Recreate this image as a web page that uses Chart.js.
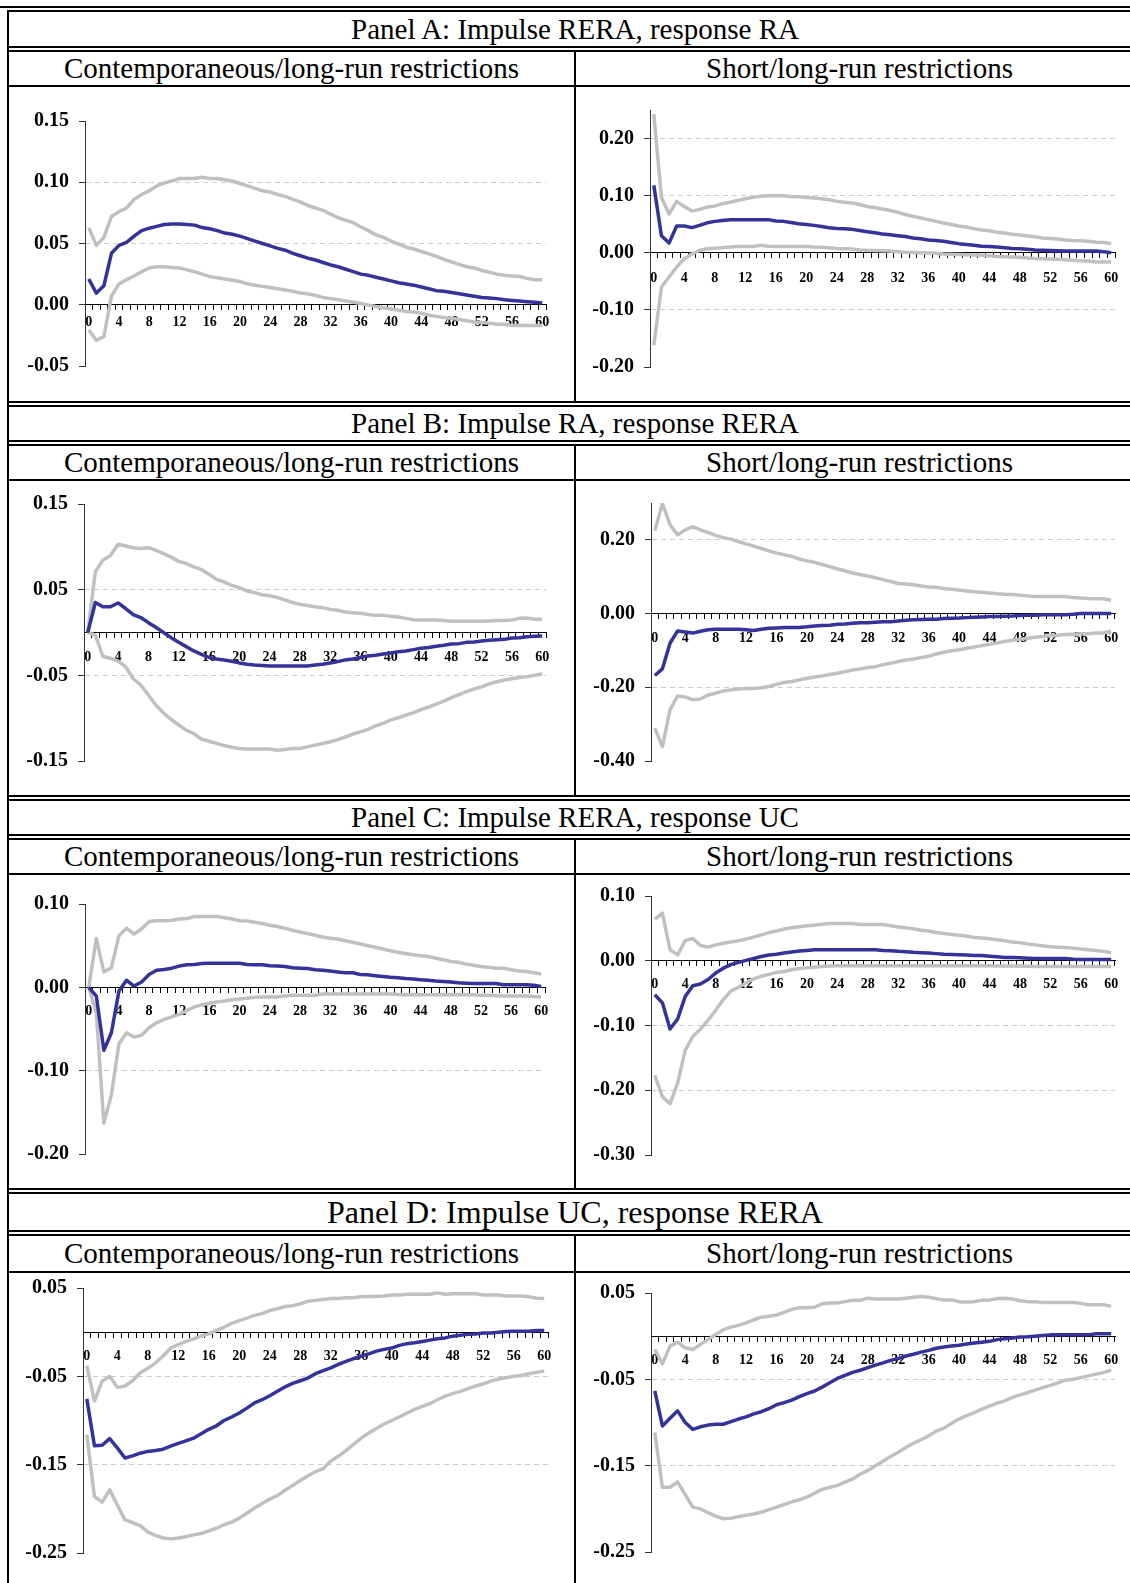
<!DOCTYPE html>
<html>
<head>
<title>Impulse responses: RERA, RA, UC</title>
<script src="https://cdn.jsdelivr.net/npm/chart.js"></script>
<style>
  body { margin: 0; width: 1130px; height: 1583px; overflow: hidden; background: #fff; position: relative;
         font-family: "Liberation Serif", "Times New Roman", serif; }
  .h { position: absolute; height: 2px; background: #000; }
  .v { position: absolute; width: 2px; background: #000; }
  .t { position: absolute; display: flex; align-items: center; justify-content: center; white-space: nowrap; color: #000; }
  canvas { position: absolute; }
</style>
</head>
<body>
<script>
// ---- data ----
const horizons = [0,1,2,3,4,5,6,7,8,9,10,11,12,13,14,15,16,17,18,19,20,21,22,23,24,25,26,27,28,29,30,
  31,32,33,34,35,36,37,38,39,40,41,42,43,44,45,46,47,48,49,50,51,52,53,54,55,56,57,58,59,60];

const panelTitles = ['Panel A: Impulse RERA, response RA', 'Panel B: Impulse RA, response RERA',
  'Panel C: Impulse RERA, response UC', 'Panel D: Impulse UC, response RERA'];
const columnTitles = ['Contemporaneous/long-run restrictions', 'Short/long-run restrictions'];

// Panel A
const aLeftTicks = [-0.05, 0.00, 0.05, 0.10, 0.15];
const aLeftUp = [0.063,0.0485,0.055,0.072,0.076,0.079,0.086,0.090,0.093,0.097,
  0.0995,0.101,0.103,0.103,0.103,0.104,0.103,0.103,0.102,0.101,
  0.099,0.097,0.095,0.093,0.092,0.090,0.0885,0.086,0.084,0.081,
  0.079,0.077,0.074,0.071,0.069,0.067,0.0635,0.0605,0.057,0.055,
  0.052,0.0495,0.047,0.0455,0.0435,0.0415,0.0395,0.037,0.035,0.033,
  0.031,0.030,0.028,0.0265,0.025,0.024,0.0235,0.023,0.0215,0.0205,0.0205];
const aLeftIrf = [0.021,0.0095,0.0155,0.042,0.0485,0.051,0.056,0.0605,0.0625,0.064,
  0.0655,0.066,0.066,0.0655,0.065,0.063,0.062,0.0605,0.0585,0.0575,
  0.056,0.054,0.052,0.050,0.048,0.046,0.0445,0.042,0.040,0.038,
  0.0365,0.0345,0.0325,0.031,0.029,0.027,0.025,0.024,0.0225,0.021,
  0.0195,0.018,0.017,0.016,0.0145,0.013,0.0115,0.011,0.010,0.009,
  0.008,0.007,0.006,0.0055,0.005,0.004,0.0035,0.003,0.0025,0.002,0.0015];
const aLeftLow = [-0.0205,-0.029,-0.026,0.007,0.017,0.0205,0.0235,0.027,0.030,0.031,
  0.031,0.0305,0.030,0.0285,0.027,0.025,0.023,0.022,0.021,0.020,
  0.019,0.017,0.016,0.015,0.014,0.013,0.012,0.011,0.0095,0.009,
  0.0075,0.006,0.005,0.004,0.003,0.002,0.001,-0.0003,-0.0015,-0.0025,
  -0.0035,-0.0045,-0.0055,-0.006,-0.007,-0.0085,-0.0095,-0.0105,-0.011,-0.012,
  -0.013,-0.014,-0.0145,-0.015,-0.016,-0.016,-0.017,-0.017,-0.017,-0.017,-0.017];

const aRightTicks = [-0.20, -0.10, 0.00, 0.10, 0.20];
const aRightUp = [0.243,0.097,0.068,0.090,0.081,0.073,0.076,0.080,0.082,0.086,
  0.0885,0.0915,0.0945,0.097,0.099,0.100,0.100,0.100,0.0985,0.098,
  0.097,0.096,0.0945,0.093,0.090,0.0885,0.087,0.0845,0.081,0.079,
  0.0765,0.074,0.071,0.067,0.064,0.061,0.058,0.055,0.052,0.0495,
  0.047,0.045,0.042,0.040,0.0385,0.036,0.0345,0.0325,0.031,0.0295,
  0.028,0.026,0.025,0.024,0.0225,0.0215,0.021,0.020,0.0185,0.018,0.016];
const aRightIrf = [0.118,0.030,0.017,0.047,0.047,0.044,0.048,0.0525,0.055,0.0565,
  0.058,0.058,0.058,0.058,0.058,0.058,0.0555,0.055,0.053,0.051,
  0.0495,0.048,0.046,0.044,0.0425,0.042,0.041,0.039,0.037,0.035,
  0.033,0.0315,0.030,0.0285,0.026,0.0245,0.0225,0.0215,0.020,0.018,
  0.016,0.0145,0.013,0.0115,0.011,0.010,0.009,0.0075,0.007,0.006,
  0.005,0.0045,0.004,0.0035,0.003,0.003,0.003,0.003,0.003,0.002,0.000];
const aRightLow = [-0.162,-0.060,-0.0425,-0.025,-0.0105,-0.002,0.004,0.007,0.008,0.009,
  0.010,0.011,0.011,0.011,0.013,0.0115,0.011,0.011,0.011,0.011,
  0.011,0.010,0.0095,0.009,0.0075,0.007,0.0065,0.005,0.004,0.004,
  0.0035,0.003,0.002,0.001,0.0005,0.000,-0.0005,-0.001,-0.002,-0.0025,
  -0.003,-0.0035,-0.004,-0.0045,-0.005,-0.0065,-0.007,-0.0075,-0.008,-0.009,
  -0.010,-0.0105,-0.011,-0.0115,-0.012,-0.013,-0.014,-0.0145,-0.016,-0.016,-0.016];

// Panel B
const bLeftTicks = [-0.15, -0.05, 0.05, 0.15];
const bLeftUp = [0.000,0.071,0.0845,0.090,0.103,0.101,0.099,0.098,0.099,0.096,
  0.092,0.088,0.083,0.0805,0.0765,0.0735,0.068,0.062,0.059,0.055,
  0.0525,0.0485,0.0465,0.044,0.043,0.041,0.038,0.035,0.033,0.0315,
  0.030,0.029,0.027,0.026,0.024,0.023,0.0225,0.021,0.020,0.020,
  0.019,0.018,0.0165,0.015,0.0145,0.0145,0.0145,0.014,0.013,0.013,
  0.013,0.013,0.013,0.0135,0.014,0.014,0.0145,0.0165,0.017,0.0155,0.0155];
const bLeftIrf = [0.000,0.035,0.030,0.030,0.0345,0.028,0.021,0.0175,0.0115,0.006,
  0.000,-0.006,-0.0115,-0.0165,-0.0215,-0.0255,-0.029,-0.031,-0.032,-0.0335,
  -0.0355,-0.037,-0.038,-0.0385,-0.039,-0.039,-0.039,-0.039,-0.039,-0.039,
  -0.038,-0.037,-0.0355,-0.034,-0.032,-0.031,-0.029,-0.0275,-0.0265,-0.025,
  -0.024,-0.0225,-0.0215,-0.020,-0.0185,-0.0175,-0.016,-0.015,-0.0135,-0.013,
  -0.0115,-0.011,-0.010,-0.009,-0.0085,-0.008,-0.0065,-0.006,-0.005,-0.0045,-0.004];
const bLeftLow = [0.000,-0.003,-0.028,-0.030,-0.0335,-0.040,-0.054,-0.0615,-0.073,-0.085,
  -0.094,-0.1015,-0.108,-0.114,-0.118,-0.1245,-0.127,-0.1295,-0.132,-0.134,
  -0.1355,-0.136,-0.136,-0.136,-0.136,-0.1375,-0.1365,-0.1355,-0.1355,-0.1335,
  -0.1315,-0.1295,-0.1275,-0.125,-0.122,-0.1185,-0.116,-0.113,-0.109,-0.106,
  -0.102,-0.0995,-0.0965,-0.0935,-0.090,-0.087,-0.0835,-0.080,-0.076,-0.0725,
  -0.069,-0.066,-0.0635,-0.060,-0.0575,-0.0555,-0.054,-0.0525,-0.0515,-0.050,-0.0485];

const bRightTicks = [-0.40, -0.20, 0.00, 0.20];
const bRightUp = [0.225,0.299,0.241,0.2135,0.227,0.236,0.227,0.220,0.212,0.206,
  0.202,0.1955,0.189,0.183,0.1765,0.170,0.164,0.160,0.155,0.148,
  0.143,0.139,0.133,0.1275,0.121,0.116,0.110,0.106,0.102,0.097,
  0.092,0.087,0.0815,0.080,0.078,0.075,0.072,0.0715,0.068,0.066,
  0.064,0.0615,0.059,0.058,0.056,0.054,0.0525,0.0515,0.050,0.048,
  0.046,0.046,0.046,0.046,0.046,0.0435,0.0425,0.041,0.040,0.040,0.036];
const bRightIrf = [-0.168,-0.150,-0.0805,-0.047,-0.050,-0.053,-0.048,-0.044,-0.0425,-0.0425,
  -0.0425,-0.0425,-0.044,-0.046,-0.0425,-0.040,-0.039,-0.038,-0.038,-0.038,
  -0.036,-0.0335,-0.0325,-0.0315,-0.029,-0.028,-0.026,-0.025,-0.025,-0.0235,
  -0.022,-0.022,-0.020,-0.018,-0.017,-0.016,-0.0155,-0.0155,-0.0135,-0.0125,
  -0.012,-0.011,-0.010,-0.009,-0.008,-0.008,-0.007,-0.0065,-0.0055,-0.0045,
  -0.0045,-0.0035,-0.0035,-0.003,-0.003,-0.002,0.000,0.000,0.000,0.000,0.000];
const bRightLow = [-0.311,-0.361,-0.2615,-0.2235,-0.226,-0.234,-0.232,-0.221,-0.216,-0.210,
  -0.207,-0.2045,-0.2035,-0.203,-0.201,-0.198,-0.192,-0.187,-0.1845,-0.180,
  -0.1755,-0.172,-0.169,-0.1655,-0.162,-0.1575,-0.153,-0.150,-0.1465,-0.144,
  -0.1385,-0.135,-0.130,-0.126,-0.123,-0.1195,-0.116,-0.1095,-0.105,-0.101,
  -0.098,-0.094,-0.0905,-0.087,-0.083,-0.0795,-0.076,-0.0725,-0.0695,-0.067,
  -0.064,-0.0625,-0.0605,-0.059,-0.057,-0.056,-0.055,-0.0545,-0.053,-0.0525,-0.048];

// Panel C
const cLeftTicks = [-0.20, -0.10, 0.00, 0.10];
const cLeftUp = [0.000,0.0585,0.0185,0.0235,0.062,0.071,0.064,0.070,0.079,0.080,
  0.080,0.0805,0.082,0.0825,0.085,0.085,0.085,0.085,0.0835,0.082,
  0.080,0.0795,0.078,0.0765,0.0745,0.073,0.071,0.0685,0.0665,0.0645,
  0.0625,0.0605,0.059,0.058,0.056,0.054,0.052,0.050,0.048,0.046,
  0.044,0.042,0.0405,0.039,0.038,0.037,0.035,0.033,0.031,0.030,
  0.028,0.0265,0.025,0.024,0.023,0.023,0.021,0.0195,0.019,0.0175,0.016];
const cLeftIrf = [0.000,-0.0105,-0.0755,-0.0545,-0.0045,0.0085,0.0015,0.0065,0.0155,0.0205,
  0.0215,0.023,0.0255,0.027,0.0275,0.0285,0.029,0.029,0.029,0.029,
  0.029,0.0275,0.027,0.027,0.026,0.0255,0.025,0.0235,0.023,0.0225,
  0.021,0.0205,0.0195,0.0185,0.0175,0.0175,0.0155,0.015,0.014,0.013,
  0.012,0.0115,0.0105,0.010,0.009,0.0085,0.0075,0.007,0.0065,0.0055,
  0.005,0.0045,0.0045,0.0045,0.0045,0.003,0.003,0.003,0.003,0.0025,0.001];
const cLeftLow = [0.000,-0.0305,-0.163,-0.129,-0.068,-0.0545,-0.0595,-0.0575,-0.0485,-0.0425,
  -0.0385,-0.0355,-0.0325,-0.028,-0.0235,-0.021,-0.019,-0.0175,-0.0165,-0.015,
  -0.014,-0.013,-0.012,-0.0115,-0.0115,-0.0115,-0.0105,-0.0095,-0.0095,-0.0095,
  -0.0095,-0.008,-0.008,-0.008,-0.008,-0.008,-0.008,-0.008,-0.008,-0.008,
  -0.008,-0.0085,-0.009,-0.009,-0.009,-0.009,-0.009,-0.009,-0.009,-0.009,
  -0.009,-0.009,-0.0095,-0.0095,-0.010,-0.0105,-0.0105,-0.0105,-0.0105,-0.011,-0.0115];

const cRightTicks = [-0.30, -0.20, -0.10, 0.00, 0.10];
const cRightUp = [0.064,0.0735,0.017,0.009,0.031,0.0345,0.0235,0.021,0.0245,0.027,
  0.029,0.031,0.0335,0.0365,0.040,0.0435,0.046,0.049,0.051,0.0525,
  0.054,0.055,0.0565,0.0575,0.0575,0.0575,0.0575,0.056,0.056,0.056,
  0.056,0.054,0.052,0.051,0.0495,0.047,0.046,0.0435,0.042,0.0405,
  0.0395,0.038,0.036,0.035,0.034,0.0325,0.031,0.029,0.028,0.026,
  0.0245,0.023,0.0215,0.021,0.0205,0.0195,0.018,0.017,0.016,0.0145,0.0125];
const cRightIrf = [-0.0525,-0.065,-0.1055,-0.090,-0.055,-0.0385,-0.036,-0.029,-0.019,-0.0115,
  -0.006,-0.0025,0.0005,0.0035,0.0065,0.009,0.010,0.012,0.0135,0.015,
  0.016,0.017,0.017,0.017,0.017,0.017,0.017,0.017,0.017,0.017,
  0.016,0.0155,0.0145,0.014,0.013,0.0125,0.012,0.011,0.010,0.0098,
  0.0093,0.009,0.008,0.008,0.007,0.006,0.005,0.005,0.0045,0.004,
  0.0035,0.0035,0.0035,0.0035,0.0035,0.0025,0.002,0.002,0.002,0.002,0.002];
const cRightLow = [-0.177,-0.210,-0.221,-0.189,-0.138,-0.117,-0.1055,-0.092,-0.0765,-0.060,
  -0.047,-0.041,-0.0345,-0.028,-0.024,-0.021,-0.018,-0.0165,-0.014,-0.012,
  -0.011,-0.010,-0.009,-0.008,-0.0077,-0.0077,-0.0077,-0.0077,-0.0077,-0.0077,
  -0.0077,-0.0077,-0.0077,-0.0077,-0.0077,-0.0077,-0.0077,-0.0077,-0.0077,-0.0077,
  -0.0077,-0.0077,-0.0077,-0.0077,-0.0077,-0.008,-0.008,-0.008,-0.008,-0.0085,
  -0.009,-0.009,-0.009,-0.009,-0.009,-0.009,-0.009,-0.009,-0.009,-0.009,-0.009];

// Panel D
const dLeftTicks = [-0.25, -0.15, -0.05, 0.05];
const dLeftUp = [-0.038,-0.078,-0.0555,-0.050,-0.0625,-0.061,-0.055,-0.046,-0.041,-0.035,
  -0.027,-0.018,-0.014,-0.0105,-0.0075,-0.0045,-0.002,0.002,0.0055,0.010,
  0.013,0.016,0.019,0.021,0.0245,0.0265,0.029,0.030,0.032,0.035,
  0.036,0.037,0.038,0.038,0.039,0.039,0.040,0.0405,0.0405,0.041,
  0.042,0.042,0.043,0.043,0.043,0.043,0.0445,0.043,0.0435,0.0435,
  0.0435,0.0435,0.042,0.042,0.042,0.041,0.041,0.041,0.040,0.0385,0.038];
const dLeftIrf = [-0.0755,-0.1285,-0.128,-0.1205,-0.131,-0.1425,-0.140,-0.137,-0.135,-0.134,
  -0.1325,-0.129,-0.126,-0.123,-0.120,-0.115,-0.110,-0.106,-0.100,-0.096,
  -0.0915,-0.086,-0.080,-0.0765,-0.072,-0.067,-0.062,-0.058,-0.055,-0.052,
  -0.047,-0.0435,-0.0405,-0.0365,-0.033,-0.030,-0.027,-0.0245,-0.0215,-0.0195,
  -0.018,-0.015,-0.013,-0.012,-0.0105,-0.009,-0.0075,-0.0065,-0.0045,-0.0035,
  -0.0025,-0.002,-0.001,-0.001,0.000,0.0008,0.001,0.001,0.001,0.002,0.002];
const dLeftLow = [-0.116,-0.186,-0.1925,-0.1785,-0.1955,-0.2125,-0.2155,-0.219,-0.226,-0.230,
  -0.233,-0.234,-0.233,-0.2315,-0.2295,-0.228,-0.225,-0.222,-0.218,-0.215,
  -0.2105,-0.205,-0.199,-0.194,-0.189,-0.185,-0.179,-0.1735,-0.168,-0.1625,
  -0.158,-0.1545,-0.146,-0.1405,-0.134,-0.127,-0.120,-0.114,-0.109,-0.104,
  -0.100,-0.096,-0.0915,-0.0875,-0.084,-0.081,-0.0765,-0.0725,-0.0695,-0.067,
  -0.064,-0.061,-0.0585,-0.0555,-0.053,-0.0515,-0.050,-0.049,-0.047,-0.0455,-0.044];

const dRightTicks = [-0.25, -0.15, -0.05, 0.05];
const dRightUp = [-0.0155,-0.032,-0.0115,-0.007,-0.0135,-0.0155,-0.0095,-0.004,0.002,0.0075,
  0.0105,0.0125,0.0155,0.019,0.022,0.023,0.0245,0.0275,0.031,0.033,
  0.033,0.0335,0.0375,0.0385,0.0385,0.040,0.0415,0.0415,0.044,0.043,
  0.043,0.043,0.043,0.044,0.045,0.046,0.045,0.0435,0.042,0.042,
  0.040,0.0395,0.040,0.0415,0.042,0.0435,0.044,0.043,0.041,0.040,
  0.040,0.039,0.039,0.039,0.039,0.039,0.038,0.0365,0.0365,0.0365,0.0345];
const dRightIrf = [-0.0635,-0.104,-0.095,-0.0865,-0.100,-0.108,-0.105,-0.103,-0.102,-0.102,
  -0.099,-0.096,-0.0935,-0.090,-0.0875,-0.084,-0.0795,-0.077,-0.074,-0.070,
  -0.0665,-0.0635,-0.059,-0.054,-0.049,-0.0455,-0.042,-0.0395,-0.0365,-0.0335,
  -0.031,-0.028,-0.026,-0.023,-0.021,-0.0185,-0.0165,-0.014,-0.0125,-0.0115,
  -0.0105,-0.009,-0.008,-0.007,-0.006,-0.004,-0.003,-0.002,-0.001,-0.0008,
  0.000,0.0008,0.0015,0.0015,0.0015,0.0015,0.0015,0.0015,0.0027,0.0027,0.0027];
const dRightLow = [-0.1115,-0.175,-0.175,-0.169,-0.1835,-0.198,-0.200,-0.2045,-0.2085,-0.2115,
  -0.211,-0.209,-0.2075,-0.206,-0.204,-0.201,-0.198,-0.195,-0.192,-0.1895,
  -0.1865,-0.182,-0.1775,-0.175,-0.173,-0.169,-0.1655,-0.160,-0.1555,-0.150,
  -0.145,-0.1395,-0.1345,-0.129,-0.124,-0.120,-0.1155,-0.110,-0.1065,-0.101,
  -0.096,-0.092,-0.0885,-0.0845,-0.081,-0.0775,-0.075,-0.071,-0.068,-0.0655,
  -0.0625,-0.0595,-0.057,-0.054,-0.051,-0.050,-0.048,-0.046,-0.044,-0.042,-0.0395];

// ---- table frame ----
const serif = '"Liberation Serif", "Times New Roman", serif';
function el(cls, css, text) {
  const d = document.createElement('div');
  d.className = cls;
  Object.assign(d.style, css);
  if (text) d.textContent = text;
  document.body.appendChild(d);
}
function hline(y, x1, x2) { el('h', {top: y + 'px', left: x1 + 'px', width: (x2 - x1) + 'px'}); }
function vline(x, y1, y2) { el('v', {left: x + 'px', top: y1 + 'px', height: (y2 - y1) + 'px'}); }

const RIGHT = 1143, DIV = 574, LEFT = 7;
// [double line above title, double line below title, line below column titles, next panel start]
const rows = [[6, 46, 85, 401], [401, 440, 479, 795], [795, 834, 873, 1188], [1188, 1230, 1271, 1583]];
hline(6, 0, RIGHT);
rows.forEach((r, k) => {
  const [a, b, c, next] = r;
  if (k > 0) hline(a, LEFT, RIGHT);
  hline(a + 4, LEFT, RIGHT);
  hline(b, LEFT, RIGHT);
  hline(b + 4, LEFT, RIGHT);
  hline(c, LEFT, RIGHT);
  vline(DIV, b + 4, next);
  el('t', {left: LEFT + 'px', width: (RIGHT - LEFT) + 'px', top: (a + 6) + 'px', height: (b - a - 6) + 'px',
           fontSize: (k === 3 ? 32 : 29) + 'px'}, panelTitles[k]);
  el('t', {left: (LEFT + 2) + 'px', width: (DIV - LEFT - 2) + 'px', top: (b + 6) + 'px', height: (c - b - 6) + 'px',
           fontSize: '29px'}, columnTitles[0]);
  el('t', {left: (DIV + 2) + 'px', width: (RIGHT - DIV - 2) + 'px', top: (b + 6) + 'px', height: (c - b - 6) + 'px',
           fontSize: '29px'}, columnTitles[1]);
});
vline(LEFT, 10, 1583);

// ---- charts ----
// layout padding must exceed the y scale's own label padding (half label + tick padding)
const YW = 70, PT = 26, PB = 26, PR = 16;
function irfChart(g, min, max, ticks, up, irf, low) {
  const cv = document.createElement('canvas');
  cv.width = YW + (g.right - g.axis) + PR;
  cv.height = (g.bottom - g.top) + PT + PB;
  cv.style.left = (g.axis - YW) + 'px';
  cv.style.top = (g.top - PT) + 'px';
  document.body.appendChild(cv);
  const lineStyle = {borderWidth: 3.5, pointRadius: 0, tension: 0, fill: false, borderJoinStyle: 'round'};
  new Chart(cv, {
    type: 'line',
    data: {
      labels: horizons,
      datasets: [
        Object.assign({data: irf, borderColor: '#333399'}, lineStyle),
        Object.assign({data: up, borderColor: '#c0c0c0'}, lineStyle),
        Object.assign({data: low, borderColor: '#c0c0c0'}, lineStyle)
      ]
    },
    options: {
      responsive: false,
      animation: false,
      devicePixelRatio: 1,
      layout: {padding: {top: PT, bottom: PB, left: 0, right: PR}},
      plugins: {legend: {display: false}, tooltip: {enabled: false}},
      scales: {
        x: {
          type: 'category',
          position: {y: 0},
          offset: true,
          grid: {offset: true, drawOnChartArea: false, drawTicks: true, tickLength: 5, tickColor: '#000', color: '#000'},
          border: {display: true, color: '#000', width: 1},
          ticks: {
            autoSkip: false, maxRotation: 0, minRotation: 0, padding: g.lp, color: '#000',
            font: {family: serif, size: 14, weight: 'bold'},
            callback: function (v, i) { return i % 4 === 0 ? String(this.getLabelForValue(v)) : ''; }
          }
        },
        y: {
          type: 'linear',
          bounds: 'data',
          min: min, max: max,
          afterBuildTicks: s => { s.ticks = ticks.map(v => ({value: v})); },
          afterFit: s => { s.width = YW; },
          grid: {
            color: c => (!c.tick || c.tick.value === 0 || c.tick.value === min || c.tick.value === max)
              ? 'rgba(0,0,0,0)' : '#cccccc',
            lineWidth: 1, drawTicks: true, tickLength: 6, tickColor: '#333', tickBorderDash: []
          },
          border: {display: true, color: '#333', width: 1, dash: [5, 4]},
          ticks: {
            padding: 10, color: '#000',
            font: {family: serif, size: 20, weight: 'bold'},
            callback: v => v.toFixed(2)
          }
        }
      }
    }
  });
}

irfChart({axis: 85, right: 546, top: 121, bottom: 366, lp: 4}, -0.05, 0.15, aLeftTicks, aLeftUp, aLeftIrf, aLeftLow);
irfChart({axis: 650, right: 1115, top: 110, bottom: 367, lp: 12}, -0.20, 0.25, aRightTicks, aRightUp, aRightIrf, aRightLow);
irfChart({axis: 84, right: 546, top: 504, bottom: 761, lp: 11}, -0.15, 0.15, bLeftTicks, bLeftUp, bLeftIrf, bLeftLow);
irfChart({axis: 651, right: 1115, top: 503, bottom: 761, lp: 11}, -0.40, 0.30, bRightTicks, bRightUp, bRightIrf, bRightLow);
irfChart({axis: 85, right: 545, top: 904, bottom: 1154, lp: 11}, -0.20, 0.10, cLeftTicks, cLeftUp, cLeftIrf, cLeftLow);
irfChart({axis: 651, right: 1115, top: 896, bottom: 1155, lp: 10}, -0.30, 0.10, cRightTicks, cRightUp, cRightIrf, cRightLow);
irfChart({axis: 83, right: 548, top: 1288, bottom: 1553, lp: 11}, -0.25, 0.05, dLeftTicks, dLeftUp, dLeftIrf, dLeftLow);
irfChart({axis: 651, right: 1115, top: 1293, bottom: 1552, lp: 11}, -0.25, 0.05, dRightTicks, dRightUp, dRightIrf, dRightLow);
</script>
</body>
</html>
